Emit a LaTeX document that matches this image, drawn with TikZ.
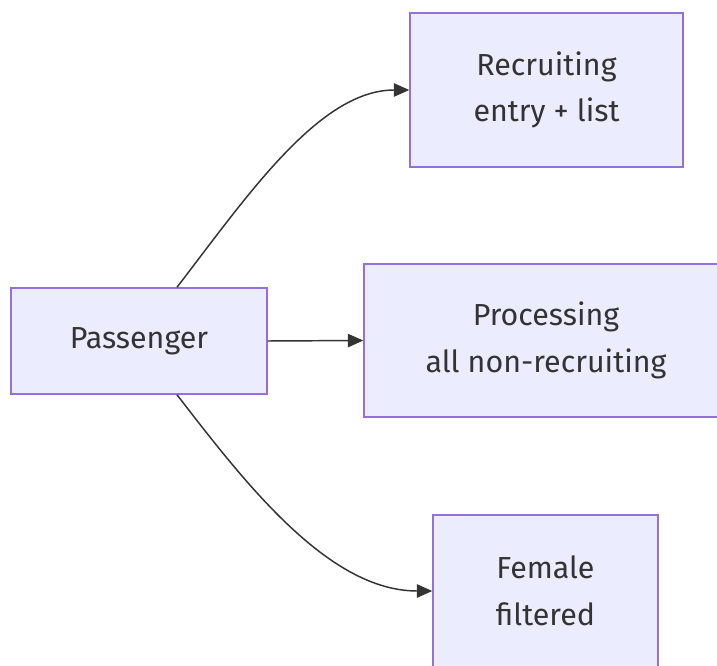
\documentclass[tikz,border=0pt]{standalone}
\usepackage{fontspec}
\setmainfont{Fira Sans}
\usetikzlibrary{arrows.meta,calc}
\definecolor{nodefill}{HTML}{ECECFF}
\definecolor{nodeline}{HTML}{9370DB}
\definecolor{edgecol}{HTML}{333333}
\begin{document}
\begin{tikzpicture}[x=0.75pt,y=-0.75pt,
  box/.style={draw=nodeline,fill=nodefill,line width=1.1pt,inner sep=0pt,
    text=edgecol,align=center,font=\fontsize{22.8}{35}\selectfont},
  conn/.style={draw=edgecol,line width=1.1pt,-{Triangle[length=11.5pt,width=10pt]}}]
\useasboundingbox (0,0) rectangle (717,666);
\node[box,minimum width=192pt,minimum height=79.5pt] (P) at (139,341) {Passenger};
\node[box,minimum width=204.75pt,minimum height=115.5pt] (R) at (546.5,90) {Recruiting\\entry + list};
\node[box,minimum width=273pt,minimum height=114.75pt] (C) at (546,340.5) {Processing\\all non-recruiting};
\node[box,minimum width=168.75pt,minimum height=114pt] (F) at (545.5,591) {Female\\filtered};
\coordinate (Pt) at ([xshift=28.5pt]P.north);
\coordinate (Pb) at ([xshift=28.5pt]P.south);
\draw[conn] (Pt) .. controls ($(Pt)+(70,-91)$) and ($(R.west)+(-90,0)$) .. (R.west);
\draw[conn] (P.east) -- (C.west);
\draw[conn] (Pb) .. controls ($(Pb)+(70,91)$) and ($(F.west)+(-103,0)$) .. (F.west);
\end{tikzpicture}
\end{document}
